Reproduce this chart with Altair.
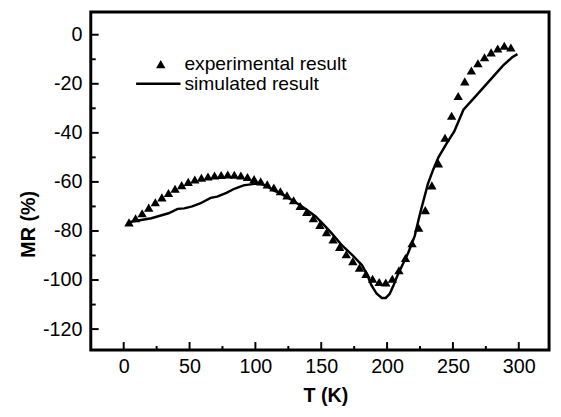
import altair as alt
import pandas as pd

# Experimental result (triangles)
exp_T = [4, 9, 14, 19, 24, 29, 34, 39, 44, 49, 54, 59, 64, 69, 74, 79, 84, 89, 94, 99,
         104, 109, 114, 119, 124, 129, 134, 139, 144, 149, 154, 159, 164, 169, 174, 179,
         184, 189, 194, 199, 204, 209, 214, 219, 224, 229, 234, 239, 244, 249, 254, 259,
         264, 269, 274, 279, 284, 289, 294]
exp_MR = [-76.5, -74.8, -72.8, -70.5, -68.3, -66.3, -64.5, -62.8, -61.3, -60.0, -59.0, -58.3,
          -57.8, -57.4, -57.2, -57.0, -57.1, -57.4, -58.0, -58.8, -59.8, -61.0, -62.3, -63.8,
          -65.5, -67.5, -69.8, -72.2, -74.8, -77.5, -80.5, -83.5, -86.5, -89.5, -92.3, -95.0,
          -97.5, -99.5, -100.8, -101.0, -99.5, -96.0, -91.0, -85.0, -78.7, -71.5, -61.4, -52.5,
          -42.0, -33.0, -25.0, -19.0, -14.6, -11.6, -9.2, -7.2, -5.6, -4.5, -5.2]

# Simulated result (line)
sim_T = [3, 10, 21, 34, 41, 46, 52, 58, 66, 71, 78, 84, 91, 99, 104, 108, 113, 120, 128,
         134, 140, 146, 152, 158, 166, 174, 181, 185, 188, 192, 196, 199, 202, 205, 208,
         212, 216, 221, 225, 231, 235, 239, 245, 251, 258, 268, 278, 288, 295, 299]
sim_MR = [-76.5, -75.8, -74.8, -72.8, -71.0, -70.8, -70.0, -68.8, -66.5, -66.0, -64.5, -62.8,
          -61.4, -60.8, -60.8, -61.5, -63.3, -65.0, -67.5, -69.5, -71.8, -74.2, -77.5, -81.0,
          -86.0, -90.0, -94.0, -98.0, -102.0, -105.5, -107.3, -107.3, -105.6, -102.0, -98.0,
          -93.5, -89.0, -82.0, -73.0, -60.8, -55.0, -50.0, -44.5, -39.4, -30.6, -24.6, -18.6,
          -12.6, -9.2, -7.9]

x_major = [0, 50, 100, 150, 200, 250, 300]
x_minor = [25, 75, 125, 175, 225, 275]
y_major = [-120, -100, -80, -60, -40, -20, 0]
y_minor = [-110, -90, -70, -50, -30, -10]

legend_labels = ["experimental result", "simulated result"]

W, H = 465, 343
FONT = "Liberation Sans"
LABEL_EXPR = "datum.value < 0 ? '-' + abs(datum.value) : '' + datum.value"

exp_df = pd.DataFrame({"T": exp_T, "MR": exp_MR})
sim_df = pd.DataFrame({"T": sim_T, "MR": sim_MR})

xscale = alt.Scale(domain=[-25, 323], nice=False, zero=False)
yscale = alt.Scale(domain=[-128.5, 9.3], nice=False, zero=False)

xaxis = alt.Axis(values=x_major, title="T (K)", tickSize=0, domain=False, grid=False,
                 labelPadding=7, labelFont=FONT, labelFontSize=20, labelColor="black",
                 labelExpr=LABEL_EXPR,
                 titleFont=FONT, titleFontSize=20, titleFontWeight="bold", titleColor="black",
                 titleX=238, titleY=36, titleBaseline="top", labelFlush=False)
yaxis = alt.Axis(values=y_major, title="MR (%)", tickSize=0, domain=False, grid=False,
                 labelPadding=9, labelFont=FONT, labelFontSize=20, labelColor="black",
                 labelExpr=LABEL_EXPR,
                 titleFont=FONT, titleFontSize=20, titleFontWeight="bold", titleColor="black",
                 titleX=-63, titleY=215, titleAngle=-90, titleBaseline="middle",
                 titleAlign="center", labelFlush=False)

X = alt.X("T:Q", scale=xscale, axis=xaxis)
Y = alt.Y("MR:Q", scale=yscale, axis=yaxis)

line = alt.Chart(sim_df).mark_line(color="black", strokeWidth=2.5).encode(x=X, y=Y)

points = alt.Chart(exp_df).mark_point(shape="triangle-up", filled=True, color="black",
                                      opacity=1, size=90).encode(x=X, y=Y)

xmaj = alt.Chart(pd.DataFrame({"T": x_major})).mark_rule(color="black", strokeWidth=2).encode(
    x=X, y=alt.value(H), y2=alt.value(H - 8))
xmin = alt.Chart(pd.DataFrame({"T": x_minor})).mark_rule(color="black", strokeWidth=2).encode(
    x=X, y=alt.value(H), y2=alt.value(H - 4))
ymaj = alt.Chart(pd.DataFrame({"MR": y_major})).mark_rule(color="black", strokeWidth=2).encode(
    y=Y, x=alt.value(0), x2=alt.value(8))
ymin = alt.Chart(pd.DataFrame({"MR": y_minor})).mark_rule(color="black", strokeWidth=2).encode(
    y=Y, x=alt.value(0), x2=alt.value(5))

leg_df = pd.DataFrame({"label": legend_labels})
leg_text1 = alt.Chart(leg_df.iloc[[0]]).mark_text(align="left", baseline="middle", font=FONT,
                                                  fontSize=19.5, color="black").encode(
    text="label:N", x=alt.value(95), y=alt.value(53))
leg_text2 = alt.Chart(leg_df.iloc[[1]]).mark_text(align="left", baseline="middle", font=FONT,
                                                  fontSize=19.5, color="black").encode(
    text="label:N", x=alt.value(95), y=alt.value(73))
leg_tri = alt.Chart(leg_df.iloc[[0]]).mark_point(shape="triangle-up", filled=True,
                                                 color="black", opacity=1, size=90).encode(
    x=alt.value(71), y=alt.value(53))
leg_line = alt.Chart(leg_df.iloc[[1]]).mark_rule(color="black", strokeWidth=2.5).encode(
    x=alt.value(46), x2=alt.value(91), y=alt.value(73))

chart = alt.layer(
    xmaj, xmin, ymaj, ymin, line, points, leg_tri, leg_line, leg_text1, leg_text2
).properties(
    width=W, height=H,
    background="white",
    autosize=alt.AutoSizeParams(type="none"),
    padding={"left": 84, "top": 1, "right": 4, "bottom": 60},
).configure_view(stroke="black", strokeWidth=3).configure_axis(
    grid=False, domain=False
)

chart.save("out.html", embed_options={"renderer": "svg", "actions": False})
